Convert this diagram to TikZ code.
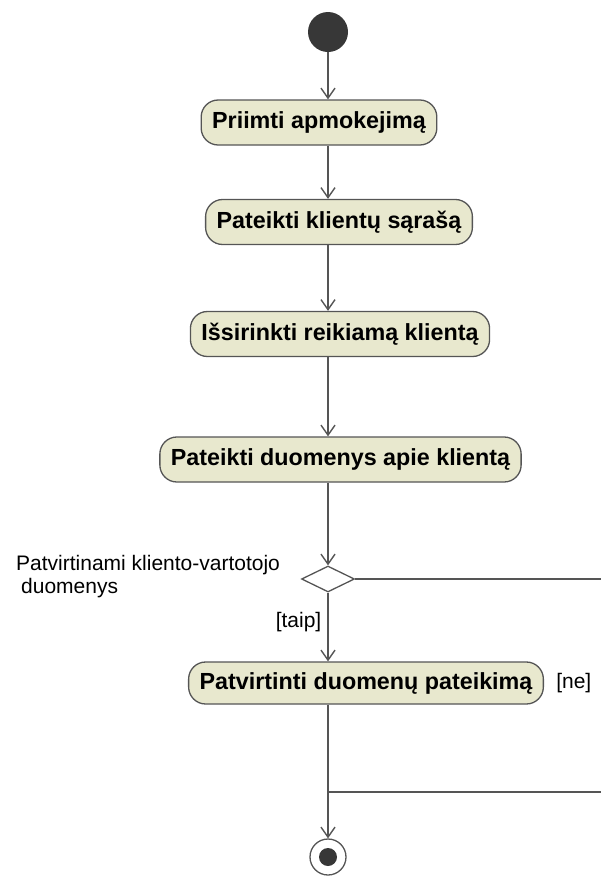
\documentclass[tikz,border=0pt]{standalone}
\usepackage{fontspec}
\setmainfont{Liberation Sans}
\usetikzlibrary{arrows.meta,shapes.geometric,positioning,calc}
\definecolor{actfill}{RGB}{232,232,206}
\definecolor{edgegray}{RGB}{85,85,85}
\definecolor{dotgray}{RGB}{55,55,55}

\begin{document}
\begin{tikzpicture}
[x=1pt,y=-1pt,
action/.style={shape=rectangle,draw=edgegray,fill=actfill,line width=1.3pt,rounded corners=17pt,
  minimum height=45pt,inner xsep=11pt,inner ysep=0pt,font=\fontsize{23.3}{28}\selectfont\bfseries},
flow/.style={edgegray,line width=1.4pt,-{Straight Barb[length=10pt,width=14pt]}},
plain/.style={edgegray,line width=1.4pt},
guard/.style={inner sep=0pt,text=black,font=\fontsize{21}{23}\selectfont},
decision/.style={shape=diamond,draw=edgegray,fill=white,line width=1.3pt,
  minimum width=53pt,minimum height=26pt,inner sep=0pt},
initial/.style={shape=circle,fill=dotgray,minimum size=40pt,inner sep=0pt},
final/.style={shape=circle,draw=edgegray,line width=1.3pt,minimum size=36pt,inner sep=0pt}]
\useasboundingbox (0,0) rectangle (601,876);
%%
% start and actions
%%
\node[initial] (start) at (328,32) {};
\node[action] (a1) at (319,122.5) {Priimti apmokejimą};
\node[action] (a2) at (339,222) {Pateikti klientų sąrašą};
\node[action] (a3) at (340,334) {Išsirinkti reikiamą klientą};
\node[action] (a4) at (340.5,459.5) {Pateikti duomenys apie klientą};
\node[decision] (dec) at (328,579) {};
\node[action,minimum height=42pt] (a5) at (366,683) {Patvirtinti duomenų pateikimą};
\node[final] (end) at (328,857) {};
\fill[dotgray] (end.center) circle (9pt);
%%
\node[guard,anchor=north west,align=left] (cond) at (16,555)
{Patvirtinami kliento-vartotojo\\\hspace*{5pt}duomenys};
%%
% flows
%%
\draw[flow] (start) -- (start |- a1.north);
\draw[flow] (start |- a1.south) -- (start |- a2.north);
\draw[flow] (start |- a2.south) -- (start |- a3.north);
\draw[flow] (start |- a3.south) -- (start |- a4.north);
\draw[flow] (start |- a4.south) -- (dec);
\draw[flow] (dec) -- node[guard,pos=.43,left=6pt] (taip) {[taip]} (start |- a5.north);
\draw[flow] (start |- a5.south) -- (end);
%
\coordinate (r1) at (610,579);
\coordinate (r2) at (610,792);
\draw[plain] (dec) -- (r1) -- node[guard,pos=.49,left=18pt] (ne) {[ne]} (r2) -- (r2 -| start);
\end{tikzpicture}
\end{document}
